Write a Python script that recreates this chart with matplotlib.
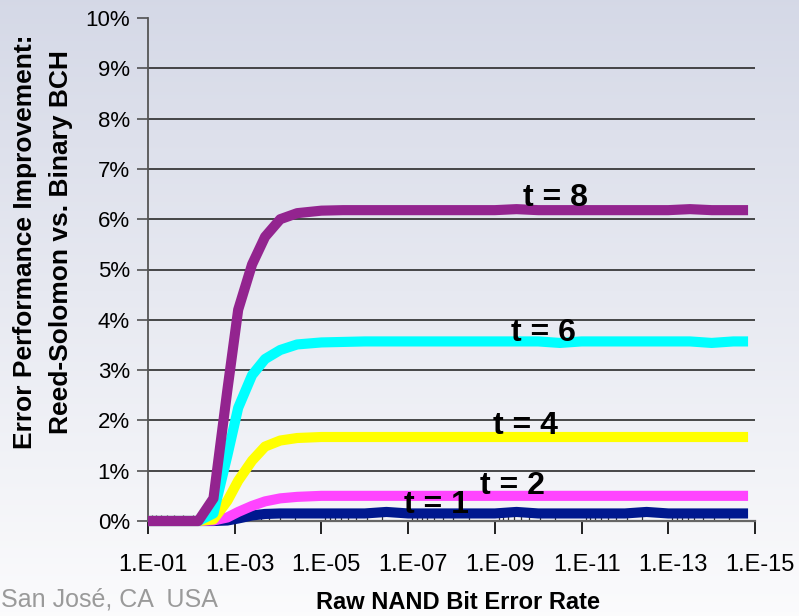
import numpy as np
import matplotlib
matplotlib.use('Agg')
import matplotlib.pyplot as plt
from matplotlib.ticker import FixedLocator, NullFormatter
from matplotlib.transforms import ScaledTranslation

plt.rcParams['font.family'] = ['Liberation Sans', 'DejaVu Sans']

# raw bit error rate, as powers of ten
exps = [-1.0, -1.6, -2.16, -2.51, -2.83, -3.08, -3.40, -3.70, -4.05, -4.44, -5.0,
        -5.5, -6.0, -6.5, -7.0, -7.5, -8.0, -8.5, -9.0, -9.5, -10.0,
        -10.5, -11.0, -11.5, -12.0, -12.5, -13.0, -13.5, -14.0, -14.5, -14.84]

# improvement in %
t1 = [0, 0, 0, 0, 0.01, 0.05, 0.11, 0.14, 0.15, 0.15, 0.15,
      0.15, 0.15, 0.18, 0.15, 0.15, 0.15, 0.15, 0.15, 0.18, 0.15,
      0.15, 0.15, 0.15, 0.15, 0.18, 0.15, 0.15, 0.15, 0.15, 0.15]
t2 = [0, 0, 0, 0.01, 0.07, 0.18, 0.30, 0.39, 0.45, 0.48, 0.50,
      0.50, 0.50, 0.50, 0.50, 0.50, 0.50, 0.50, 0.50, 0.50, 0.50,
      0.50, 0.50, 0.50, 0.50, 0.50, 0.50, 0.50, 0.50, 0.50, 0.50]
t4 = [0, 0, 0, 0.03, 0.40, 0.80, 1.20, 1.48, 1.60, 1.65, 1.67,
      1.67, 1.67, 1.67, 1.67, 1.67, 1.67, 1.67, 1.67, 1.67, 1.67,
      1.67, 1.67, 1.67, 1.67, 1.67, 1.67, 1.67, 1.67, 1.67, 1.67]
t6 = [0, 0, 0, 0.15, 1.30, 2.25, 2.90, 3.22, 3.40, 3.51, 3.55,
      3.56, 3.57, 3.57, 3.57, 3.57, 3.57, 3.57, 3.57, 3.57, 3.57,
      3.54, 3.57, 3.57, 3.57, 3.57, 3.57, 3.57, 3.54, 3.57, 3.57]
t8 = [0, 0, 0, 0.45, 2.60, 4.20, 5.10, 5.65, 6.00, 6.12, 6.17,
      6.18, 6.18, 6.18, 6.18, 6.18, 6.18, 6.18, 6.18, 6.20, 6.18,
      6.18, 6.18, 6.18, 6.18, 6.18, 6.18, 6.20, 6.18, 6.18, 6.18]

series = [('t = 1', t1, '#00188F'), ('t = 2', t2, '#FF44FF'), ('t = 4', t4, '#FFFF00'),
          ('t = 6', t6, '#00FFFF'), ('t = 8', t8, '#93248F')]

x = 10.0 ** np.array(exps)

fig = plt.figure(figsize=(7.99, 6.16), dpi=100)

# slide background gradient
bg = fig.add_axes([0, 0, 1, 1], zorder=0)
top = np.array([0.835, 0.85, 0.905])
bot = np.array([0.985, 0.985, 0.99])
f = np.linspace(0, 1, 256)[:, None]
grad = top + (bot - top) * f
bg.imshow(grad[:, None, :], aspect='auto', extent=[0, 1, 0, 1])
bg.axis('off')

ax = fig.add_axes([148/799, 1-521/616, (755-148)/799, 503/616], zorder=1)
ax.patch.set_alpha(0)

for name, vals, col in series:
    ax.plot(x, vals, color=col, lw=7.3, solid_capstyle='butt', solid_joinstyle='round',
            clip_on=False, zorder=3)

ax.set_xscale('log')
ax.set_xlim(1e-1, 1e-15)
ax.set_ylim(0, 10)

majors = [10.0 ** -k for k in range(1, 16, 2)]
ax.xaxis.set_major_locator(FixedLocator(majors))
ax.set_xticklabels([f'1.E-{k:02d}' for k in range(1, 16, 2)])
minors = [m / 100 * j * j for m in majors[:-1] for j in range(2, 10)]
ax.xaxis.set_minor_locator(FixedLocator(minors))
ax.xaxis.set_minor_formatter(NullFormatter())

ax.set_yticks(range(0, 11))
ax.set_yticklabels([f'{v}%' for v in range(0, 11)])
for v in range(1, 10):
    ax.axhline(v, color='#2a2a2a', lw=1.2, zorder=2)

for s in ['top', 'right']:
    ax.spines[s].set_visible(False)
ax.spines['left'].set_color('#555555')
ax.spines['left'].set_linewidth(1.3)
ax.spines['bottom'].set_color('#666666')
ax.spines['bottom'].set_linewidth(1.6)

ax.tick_params(axis='y', which='major', length=8, width=1.1, color='#444444',
               labelsize=16, pad=5)
ax.tick_params(axis='x', which='major', length=9, width=1.3, color='#111111',
               labelsize=17, pad=15, direction='out')
ax.tick_params(axis='x', which='minor', length=4, width=0.9, color='#333333',
               direction='in')
shift = ScaledTranslation(0.05, 0, fig.dpi_scale_trans)
for lab in ax.get_xticklabels():
    lab.set_transform(lab.get_transform() + shift)

# curve labels
labels = [('t = 8', -10.41, 6.26), ('t = 6', -10.11, 3.58), ('t = 4', -9.70, 1.73),
          ('t = 2', -9.40, 0.54), ('t = 1', -7.65, 0.16)]
for txt, e, yv in labels:
    ax.text(10.0 ** e, yv, txt, ha='center', va='baseline', fontsize=23,
            fontweight='bold', color='black', zorder=5)

fig.text(458/799, 1-609/616, 'Raw NAND Bit Error Rate', ha='center', va='baseline',
         fontsize=17, fontweight='bold')
fig.text(25/799, 1-242/616, 'Error Performance Improvement:', rotation=90,
         ha='center', va='center', fontsize=19, fontweight='bold')
fig.text(61/799, 1-242/616, 'Reed-Solomon vs. Binary BCH', rotation=90,
         ha='center', va='center', fontsize=19, fontweight='bold')
fig.text(1/799, 1-606/616, 'San José, CA  USA', ha='left', va='baseline',
         fontsize=18, color='#9a9a9a')

fig.savefig('out.png', dpi=100)
